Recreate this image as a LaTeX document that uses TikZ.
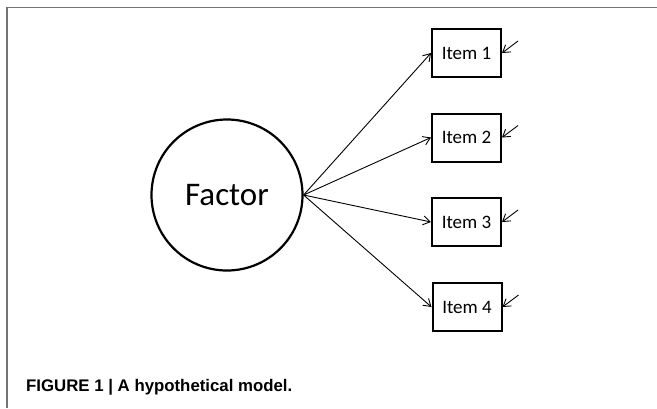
\documentclass[tikz,border=0pt]{standalone}
\usepackage{fontspec}
\setmainfont{Carlito}
\newfontfamily\capfont{Liberation Sans}
\usetikzlibrary{arrows.meta}
\tikzset{
  itembox/.style={draw, line width=2pt, minimum width=69pt, minimum height=48pt, inner sep=0pt, font=\fontsize{19}{22}\selectfont},
  factornode/.style={draw, circle, line width=2.2pt, minimum size=151pt, inner sep=0pt, font=\fontsize{33}{38}\selectfont},
  load/.style={line width=0.9pt, -{Straight Barb[length=7pt,width=9pt,line width=0.9pt]}},
  framel/.style={draw=black!55, line width=1.5pt}
}
\begin{document}
\begin{tikzpicture}[x=1pt,y=-1pt]
\useasboundingbox (0,0) rectangle (657,408);
\coordinate (fa) at (7,408);
\coordinate (fb) at (7,7.5);
\coordinate (fc) at (657,7.5);
\draw[framel] (fa) -- (fb) -- (fc);
\node[factornode] (F) at (227,195) {Factor};
\node[itembox] (I1) at (466.5,53) {Item 1};
\node[itembox] (I2) at (466.5,137.5) {Item 2};
\node[itembox] (I3) at (466.5,222) {Item 3};
\node[itembox] (I4) at (467,307) {Item 4};
\foreach \i in {1,2,3,4}{
  \draw[load] (F.east) -- (I\i.west);
  \coordinate (e\i) at ([xshift=16pt,yshift=12pt]I\i.east);
  \draw[load] (e\i) -- (I\i.east);
}
\node[anchor=base west, inner sep=0pt, font=\capfont\bfseries\fontsize{16.8}{19}\selectfont] (cap) at (26,391) {FIGURE 1 | A hypothetical model.};
\end{tikzpicture}
\end{document}
